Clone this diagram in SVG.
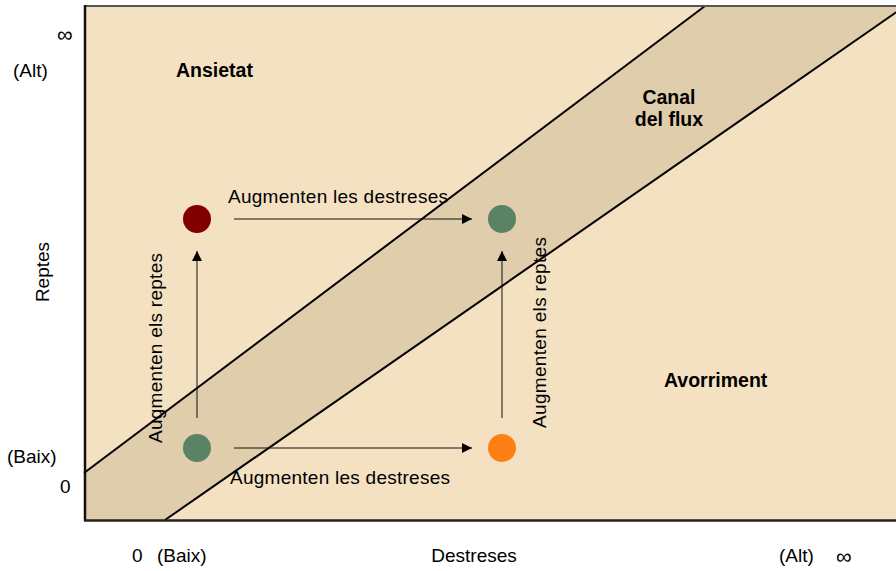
<svg xmlns="http://www.w3.org/2000/svg" width="896" height="571" viewBox="0 0 896 571">
<defs>
<style>
.t{font-family:"Liberation Sans",Arial,sans-serif;font-size:19px;fill:#000}
.inf{font-family:"Liberation Sans",Arial,sans-serif;font-size:22px;fill:#000}
.b{font-family:"Liberation Sans",Arial,sans-serif;font-size:19.5px;font-weight:bold;fill:#000}
.ln{stroke:#111;stroke-width:1;fill:none}
.edge{stroke:#000;stroke-width:2;fill:none}
</style>
<marker id="ah" markerWidth="12" markerHeight="12" refX="10" refY="5" orient="auto" markerUnits="userSpaceOnUse">
<path d="M0,0 L10,5 L0,10 Z" fill="#000"/>
</marker>
</defs>
<rect width="896" height="571" fill="#fff"/>
<g id="plot">
<rect x="84" y="6" width="814" height="514" fill="#F4E1C2"/>
<polygon points="84,473 705,6 898,6 898,12 165,520 84,520" fill="#E0CDAC"/>
<line class="edge" x1="84" y1="473" x2="705" y2="6"/>
<line class="edge" x1="165" y1="520" x2="898" y2="11"/>
<line x1="84" y1="6" x2="898" y2="6" stroke="#555" stroke-width="2"/>
<line x1="85" y1="5" x2="85" y2="521" stroke="#111" stroke-width="2.5"/>
<line x1="84" y1="520.5" x2="898" y2="520.5" stroke="#222" stroke-width="2.5"/>
</g>
<g id="regions">
<text class="b" x="176" y="77">Ansietat</text>
<text class="b" x="669" y="104" text-anchor="middle">Canal</text>
<text class="b" x="669" y="126" text-anchor="middle">del flux</text>
<text class="b" x="664" y="387">Avorriment</text>
</g>
<g id="axes">
<text class="inf" x="57" y="42">∞</text>
<text class="t" x="13" y="77">(Alt)</text>
<text class="t" x="7" y="463">(Baix)</text>
<text class="t" x="60" y="493">0</text>
<text class="t" x="49" y="272" text-anchor="middle" transform="rotate(-90 49 272)">Reptes</text>
<text class="t" x="132" y="562">0</text>
<text class="t" x="157" y="562">(Baix)</text>
<text class="t" x="474" y="562" text-anchor="middle">Destreses</text>
<text class="t" x="779" y="562">(Alt)</text>
<text class="inf" x="836" y="564">∞</text>
</g>
<g id="connectors">
<line class="ln" x1="234" y1="219" x2="472" y2="219" marker-end="url(#ah)"/>
<line class="ln" x1="234" y1="448" x2="472" y2="448" marker-end="url(#ah)"/>
<line class="ln" x1="197" y1="418" x2="197" y2="251" marker-end="url(#ah)"/>
<line class="ln" x1="502" y1="418" x2="502" y2="251" marker-end="url(#ah)"/>
<text class="t" x="228" y="203" textLength="220">Augmenten les destreses</text>
<text class="t" x="230" y="484" textLength="220">Augmenten les destreses</text>
<text class="t" x="162" y="443" textLength="190" transform="rotate(-90 162 443)">Augmenten els reptes</text>
<text class="t" x="546" y="428" textLength="191" transform="rotate(-90 546 428)">Augmenten els reptes</text>
</g>
<g id="node-red"><circle cx="197" cy="219" r="14" fill="#800000"/></g>
<g id="node-green-top"><circle cx="502" cy="219" r="14" fill="#5A8264"/></g>
<g id="node-green-bottom"><circle cx="197" cy="448" r="14" fill="#5A8264"/></g>
<g id="node-orange"><circle cx="502" cy="448" r="14" fill="#FF7F17"/></g>
</svg>
